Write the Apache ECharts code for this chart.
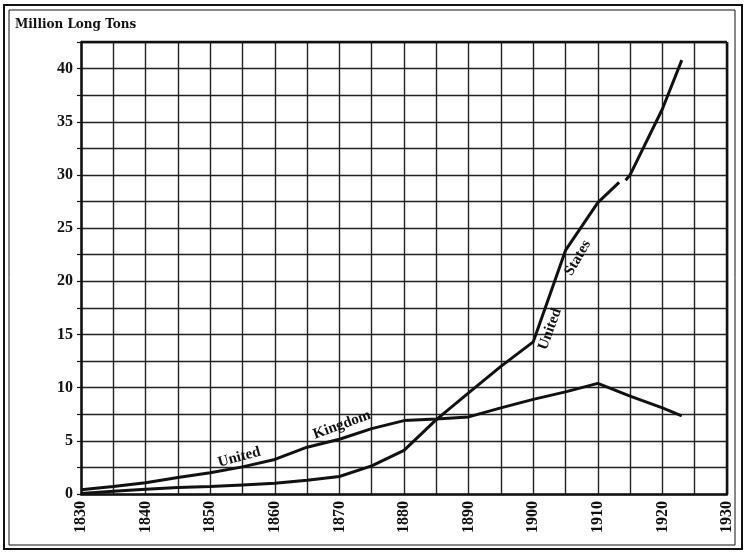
<!DOCTYPE html>
<html>
<head>
<meta charset="utf-8">
<script src="https://cdn.jsdelivr.net/npm/echarts@6/dist/echarts.min.js"></script>
<style>
  html, body { margin: 0; padding: 0; background: #fff; }
  #chart { width: 744px; height: 552px; }
</style>
</head>
<body>
<div id="chart"></div>
<script>
// United Kingdom, million long tons
var ukYears  = [1830, 1835, 1840, 1845, 1850, 1855, 1860, 1865, 1870, 1875, 1880, 1885, 1890, 1895, 1900, 1905, 1910, 1915, 1920, 1923];
var ukValues = [0.4, 0.7, 1.05, 1.55, 2.0, 2.55, 3.25, 4.4, 5.15, 6.15, 6.9, 7.05, 7.25, 8.1, 8.9, 9.6, 10.4, 9.2, 8.1, 7.35];

// United States (null = break in the printed line)
var usYears  = [1830, 1835, 1840, 1845, 1850, 1855, 1860, 1865, 1870, 1875, 1880, 1885, 1890, 1895, 1900, 1905, 1910, 1913.3, 1913.8, 1914.3, 1915, 1920, 1923];
var usValues = [0.05, 0.25, 0.45, 0.6, 0.7, 0.85, 1.0, 1.3, 1.65, 2.65, 4.1, 7.0, 9.5, 12.0, 14.3, 22.9, 27.4, 29.3, null, 29.5, 30.0, 36.2, 40.8];

var yTickLabels = [0, 5, 10, 15, 20, 25, 30, 35, 40];
var xTickLabels = [1830, 1840, 1850, 1860, 1870, 1880, 1890, 1900, 1910, 1920, 1930];

// text written along the curves: [text, year, value, angle in degrees]
var curveLabels = [
  ['United', 1854.5, 3.45, 15],
  ['Kingdom', 1870.4, 6.5, 20],
  ['United', 1902.6, 15.5, 70],
  ['States', 1906.9, 22.2, 60]
];

function pairs(xs, ys) {
  return xs.map(function (x, i) { return [x, ys[i] === null ? '-' : ys[i]]; });
}

var serif = '"Liberation Serif", "DejaVu Serif", serif';
var ink = '#111';

var myChart = echarts.init(document.getElementById('chart'));
var option = {
  backgroundColor: '#fff',
  animation: false,
  grid: { left: 81, right: 17, top: 42, bottom: 58 },
  xAxis: {
    type: 'value',
    min: 1830,
    max: 1930,
    interval: 5,
    axisLine: { show: true, lineStyle: { color: ink, width: 2.5 } },
    axisTick: { show: false },
    splitLine: { show: true, lineStyle: { color: '#222', width: 1.4 } },
    axisLabel: {
      rotate: 90,
      margin: 7,
      color: ink,
      fontFamily: serif,
      fontWeight: 'bold',
      fontSize: 16,
      formatter: function (v) { return xTickLabels.indexOf(v) >= 0 ? String(v) : ''; }
    }
  },
  yAxis: {
    type: 'value',
    min: 0,
    max: 42.5,
    interval: 2.5,
    axisLine: { show: true, lineStyle: { color: ink, width: 2.5 } },
    axisTick: { show: true, length: 4, lineStyle: { color: ink, width: 1.2 } },
    splitLine: { show: true, lineStyle: { color: '#222', width: 1.4 } },
    axisLabel: {
      margin: 8,
      color: ink,
      fontFamily: serif,
      fontWeight: 'bold',
      fontSize: 16,
      formatter: function (v) { return yTickLabels.indexOf(v) >= 0 ? String(v) : ''; }
    }
  },
  series: [
    {
      name: 'United Kingdom',
      type: 'line',
      data: pairs(ukYears, ukValues),
      symbol: 'none',
      lineStyle: { color: ink, width: 3 }
    },
    {
      name: 'United States',
      type: 'line',
      data: pairs(usYears, usValues),
      symbol: 'none',
      connectNulls: false,
      lineStyle: { color: ink, width: 3 }
    }
  ]
};
myChart.setOption(option);

// frame, title and curve names
var elements = [
  { type: 'rect', shape: { x: 4, y: 5, width: 738, height: 544 }, style: { fill: null, stroke: ink, lineWidth: 2 } },
  { type: 'rect', shape: { x: 9, y: 10, width: 726, height: 535 }, style: { fill: null, stroke: ink, lineWidth: 1 } },
  // top and right edges of the plot box
  { type: 'line', shape: { x1: 81, y1: 42, x2: 727, y2: 42 }, style: { stroke: ink, lineWidth: 2.5 } },
  { type: 'line', shape: { x1: 727, y1: 42, x2: 727, y2: 494 }, style: { stroke: ink, lineWidth: 2.5 } },
  {
    type: 'text', x: 15, y: 19,
    style: { text: 'Million Long Tons', fill: ink, font: 'bold 12px "DejaVu Serif", serif' }
  }
];
curveLabels.forEach(function (l) {
  var p = myChart.convertToPixel({ gridIndex: 0 }, [l[1], l[2]]);
  elements.push({
    type: 'text', x: p[0], y: p[1], rotation: l[3] * Math.PI / 180,
    style: {
      text: l[0], fill: ink, font: 'bold 15px ' + serif,
      align: 'center', verticalAlign: 'middle'
    },
    z: 10
  });
});
myChart.setOption({ graphic: { elements: elements } });
</script>
</body>
</html>
